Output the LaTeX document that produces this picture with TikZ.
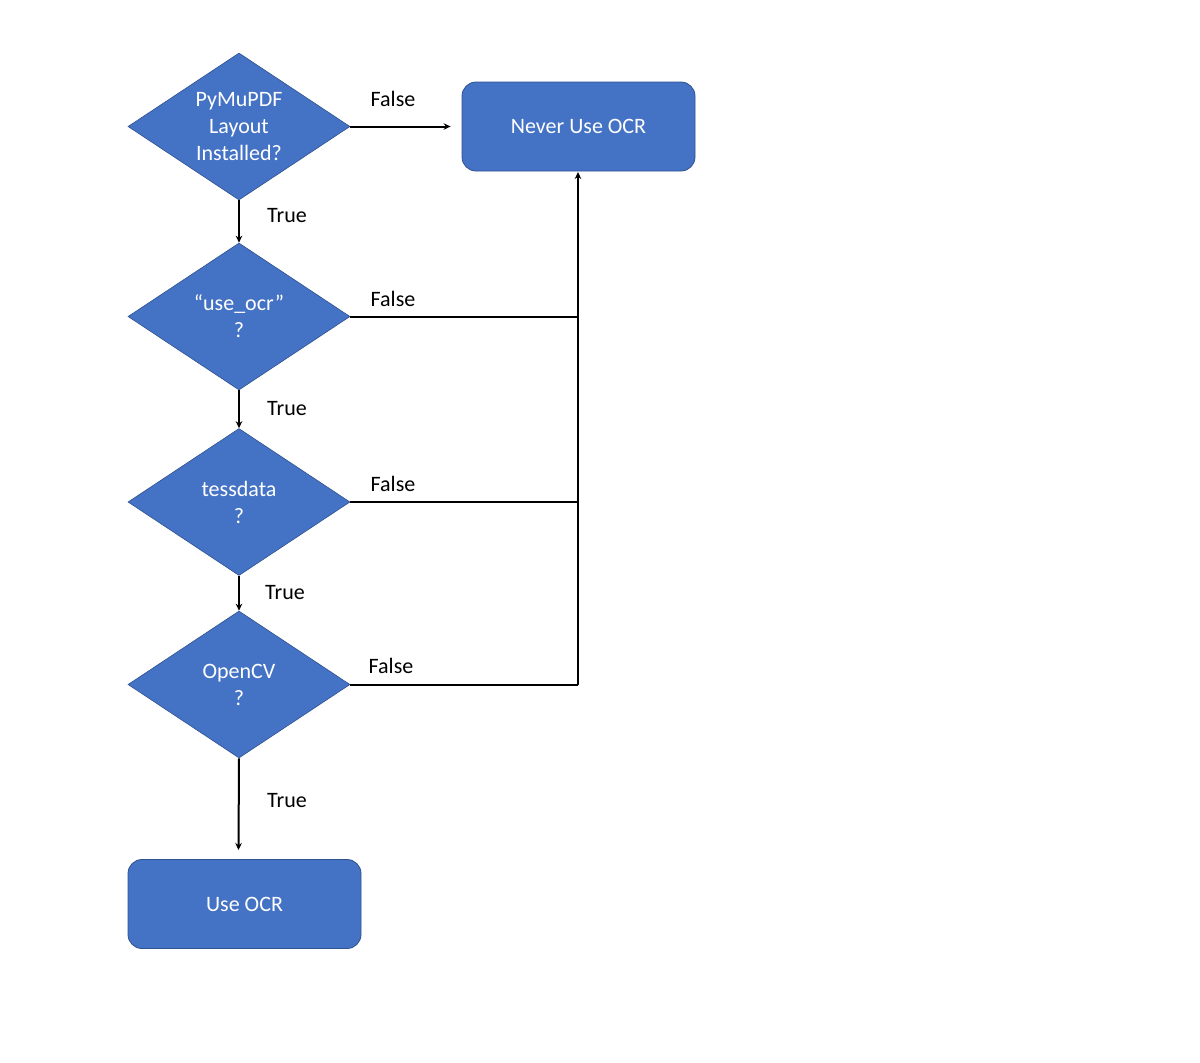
\documentclass[tikz,border=0pt]{standalone}
\usepackage{fontspec}
\setmainfont{Carlito}
\usetikzlibrary{shapes.geometric,arrows.meta}
\definecolor{boxblue}{HTML}{4472C4}
\definecolor{edgeblue}{HTML}{2F528F}
\begin{document}
\begin{tikzpicture}[x=1pt,y=-1pt,
  dia/.style={diamond, aspect=1.51, minimum width=222pt, minimum height=147pt, inner sep=0pt,
    fill=boxblue, draw=edgeblue, line width=0.6pt, text=white, align=center,
    font=\fontsize{22}{27}\selectfont},
  rbox/.style={rectangle, rounded corners=14pt, minimum width=233pt, minimum height=89pt,
    fill=boxblue, draw=edgeblue, line width=0.8pt, text=white, font=\fontsize{22}{27}\selectfont},
  lbl/.style={font=\fontsize{22}{27}\selectfont, text=black, inner sep=0pt},
  conn/.style={line width=2pt, black},
  arr/.style={conn, -{Stealth[length=7pt,width=6.5pt]}}]
\useasboundingbox (0,0) rectangle (1200,1063);
\node[dia] (d1) at (239,126.5) {PyMuPDF\\Layout\\Installed?};
\node[dia] (d2) at (239,316.5) {“use\_ocr”\\?};
\node[dia] (d3) at (239,502) {tessdata\\?};
\node[dia] (d4) at (239,684.5) {OpenCV\\?};
\node[rbox] (never) at (578.5,126.5) {Never Use OCR};
\node[rbox] (use) at (244.5,904) {Use OCR};
\coordinate (nevtip) at (578,172);
\coordinate (j4) at (578,684.5);
\coordinate (usetip) at (238.5,850);
\draw[arr] (d1.east) -- ([xshift=-11pt]never.west);
\draw[arr] (d1.south) -- (d2.north);
\draw[arr] (d2.south) -- (d3.north);
\draw[arr] (d3.south) -- (d4.north);
\draw[arr] (d4.south) -- (usetip);
\draw[conn] (d4.east) -- (j4);
\draw[arr] (j4) -- (nevtip);
\draw[conn] (d2.east) -- (d2.east -| j4);
\draw[conn] (d3.east) -- (d3.east -| j4);
\node[lbl] (f1) at (393,99) {False};
\node[lbl] (f2) at (393,299) {False};
\node[lbl] (f3) at (393,484) {False};
\node[lbl] (f4) at (391,666) {False};
\node[lbl] (t1) at (287,216) {True};
\node[lbl] (t2) at (287,409) {True};
\node[lbl] (t3) at (285,593) {True};
\node[lbl] (t4) at (287,801) {True};
\end{tikzpicture}
\end{document}
